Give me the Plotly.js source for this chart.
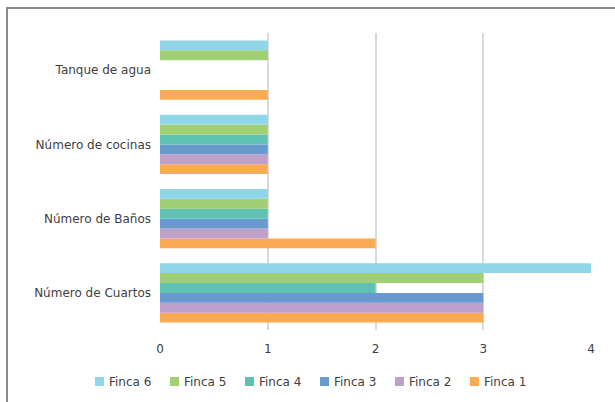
<!DOCTYPE html>
<html><head><meta charset="utf-8">
<script src="https://cdn.plot.ly/plotly-3.0.1.min.js"></script>
<style>
html,body{margin:0;padding:0;background:#fff;}
#wrap{position:relative;width:615px;height:402px;}
#chart{width:615px;height:402px;}
#frame{position:absolute;left:6px;top:7px;width:640px;height:420px;border-left:2px solid #8a8a8a;border-top:2px solid #8a8a8a;pointer-events:none;}
</style></head>
<body><div id="wrap"><div id="chart"></div><div id="frame"></div></div>
<script>
const categories = ["Número de Cuartos","Número de Baños","Número de cocinas","Tanque de agua"];
const seriesNames = ["Finca 1","Finca 2","Finca 3","Finca 4","Finca 5","Finca 6"];
const finca1 = [3,2,1,1];
const finca2 = [3,1,1,0];
const finca3 = [3,1,1,0];
const finca4 = [2,1,1,0];
const finca5 = [3,1,1,1];
const finca6 = [4,1,1,1];
const xTicks = [0,1,2,3,4];
const colors = ["#f9ab54","#bea1cb","#6899cf","#5fc2b5","#a1cf74","#8fd6e8"];
const values = [finca1,finca2,finca3,finca4,finca5,finca6];
const font = {family:"DejaVu Sans, sans-serif", size:12, color:"#404040"};
const traces = values.map((v,i)=>({
  type:"bar", orientation:"h", name:seriesNames[i], x:v, y:categories,
  marker:{color:colors[i], line:{width:0}}, hoverinfo:"x+name", showlegend:false
}));

// Plot area geometry (px)
const W=615, H=402, mL=160, mR=24, mT=33, mB=72;
const pw=W-mL-mR, ph=H-mT-mB;
const px2x = p => (p-mL)/pw;
const py2y = p => (H-mB-p)/ph;

// Custom legend (Finca 6 ... Finca 1), Excel-style
const legLeft=95, legStep=75, legMid=381.5, sw=9;
const shapes=[], annotations=[];
for(let k=0;k<seriesNames.length;k++){
  const i=seriesNames.length-1-k;
  const x0=legLeft+k*legStep;
  shapes.push({type:"rect", xref:"paper", yref:"paper",
    x0:px2x(x0), x1:px2x(x0+sw), y0:py2y(legMid+sw/2), y1:py2y(legMid-sw/2),
    fillcolor:colors[i], line:{width:0}});
  annotations.push({xref:"paper", yref:"paper", x:px2x(x0+sw+3), y:py2y(legMid),
    xanchor:"left", yanchor:"middle", text:seriesNames[i], showarrow:false, font:font});
}

const layout = {
  width:W, height:H, margin:{l:mL,r:mR,t:mT,b:mB},
  paper_bgcolor:"#fff", plot_bgcolor:"#fff", font:font,
  barmode:"group", bargap:0.2, bargroupgap:0,
  xaxis:{range:[0,4], tickvals:xTicks, showgrid:true, gridcolor:"#d9d9d9", gridwidth:2,
         zeroline:false, showline:false, ticks:"", ticklen:0, ticklabelstandoff:10, tickfont:font, fixedrange:true},
  yaxis:{type:"category", categoryorder:"array", categoryarray:categories, showgrid:false,
         zeroline:false, showline:false, ticks:"", ticklabelstandoff:8, tickfont:font, fixedrange:true},
  showlegend:false, shapes:shapes, annotations:annotations
};
Plotly.newPlot("chart", traces, layout, {displayModeBar:false, staticPlot:true});
</script></body></html>
